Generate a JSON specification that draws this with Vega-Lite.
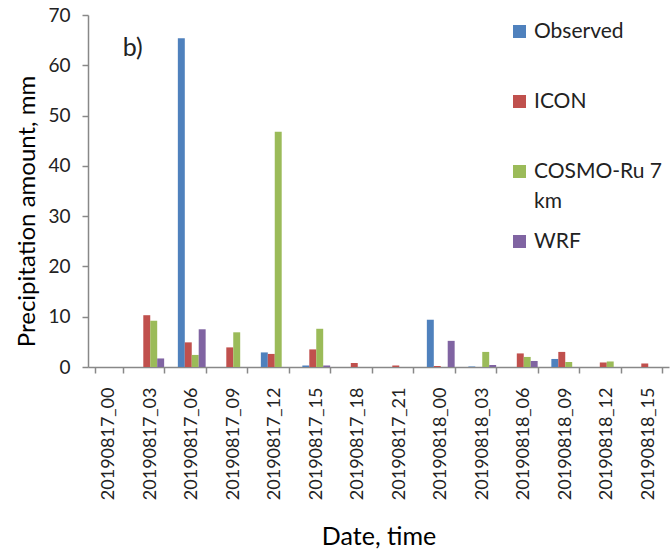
{
  "$schema": "https://vega.github.io/schema/vega-lite/v6.json",
  "width": 581,
  "height": 352,
  "autosize": "none",
  "padding": {"left": 88, "top": 15, "right": 2, "bottom": 190},
  "background": "white",
  "config": {"view": {"stroke": null}, "font": "Lato"},
  "datasets": {
    "rain": [
      {"t": "20190817_00", "model": "Observed", "v": 0},
      {"t": "20190817_00", "model": "ICON", "v": 0},
      {"t": "20190817_00", "model": "COSMO-Ru 7 km", "v": 0},
      {"t": "20190817_00", "model": "WRF", "v": 0},
      {"t": "20190817_03", "model": "Observed", "v": 0},
      {"t": "20190817_03", "model": "ICON", "v": 10.3},
      {"t": "20190817_03", "model": "COSMO-Ru 7 km", "v": 9.2},
      {"t": "20190817_03", "model": "WRF", "v": 1.7},
      {"t": "20190817_06", "model": "Observed", "v": 65.4},
      {"t": "20190817_06", "model": "ICON", "v": 4.9},
      {"t": "20190817_06", "model": "COSMO-Ru 7 km", "v": 2.4},
      {"t": "20190817_06", "model": "WRF", "v": 7.5},
      {"t": "20190817_09", "model": "Observed", "v": 0},
      {"t": "20190817_09", "model": "ICON", "v": 3.9},
      {"t": "20190817_09", "model": "COSMO-Ru 7 km", "v": 6.9},
      {"t": "20190817_09", "model": "WRF", "v": 0},
      {"t": "20190817_12", "model": "Observed", "v": 2.9},
      {"t": "20190817_12", "model": "ICON", "v": 2.6},
      {"t": "20190817_12", "model": "COSMO-Ru 7 km", "v": 46.8},
      {"t": "20190817_12", "model": "WRF", "v": 0},
      {"t": "20190817_15", "model": "Observed", "v": 0.3},
      {"t": "20190817_15", "model": "ICON", "v": 3.5},
      {"t": "20190817_15", "model": "COSMO-Ru 7 km", "v": 7.6},
      {"t": "20190817_15", "model": "WRF", "v": 0.3},
      {"t": "20190817_18", "model": "Observed", "v": 0},
      {"t": "20190817_18", "model": "ICON", "v": 0.8},
      {"t": "20190817_18", "model": "COSMO-Ru 7 km", "v": 0},
      {"t": "20190817_18", "model": "WRF", "v": 0},
      {"t": "20190817_21", "model": "Observed", "v": 0},
      {"t": "20190817_21", "model": "ICON", "v": 0.3},
      {"t": "20190817_21", "model": "COSMO-Ru 7 km", "v": 0},
      {"t": "20190817_21", "model": "WRF", "v": 0},
      {"t": "20190818_00", "model": "Observed", "v": 9.4},
      {"t": "20190818_00", "model": "ICON", "v": 0.2},
      {"t": "20190818_00", "model": "COSMO-Ru 7 km", "v": 0},
      {"t": "20190818_00", "model": "WRF", "v": 5.2},
      {"t": "20190818_03", "model": "Observed", "v": 0.1},
      {"t": "20190818_03", "model": "ICON", "v": 0},
      {"t": "20190818_03", "model": "COSMO-Ru 7 km", "v": 3.0},
      {"t": "20190818_03", "model": "WRF", "v": 0.4},
      {"t": "20190818_06", "model": "Observed", "v": 0},
      {"t": "20190818_06", "model": "ICON", "v": 2.7},
      {"t": "20190818_06", "model": "COSMO-Ru 7 km", "v": 2.0},
      {"t": "20190818_06", "model": "WRF", "v": 1.2},
      {"t": "20190818_09", "model": "Observed", "v": 1.6},
      {"t": "20190818_09", "model": "ICON", "v": 3.0},
      {"t": "20190818_09", "model": "COSMO-Ru 7 km", "v": 1.0},
      {"t": "20190818_09", "model": "WRF", "v": 0},
      {"t": "20190818_12", "model": "Observed", "v": 0},
      {"t": "20190818_12", "model": "ICON", "v": 0.9},
      {"t": "20190818_12", "model": "COSMO-Ru 7 km", "v": 1.1},
      {"t": "20190818_12", "model": "WRF", "v": 0},
      {"t": "20190818_15", "model": "Observed", "v": 0},
      {"t": "20190818_15", "model": "ICON", "v": 0.7},
      {"t": "20190818_15", "model": "COSMO-Ru 7 km", "v": 0},
      {"t": "20190818_15", "model": "WRF", "v": 0}
    ],
    "note": [{"t": "20190817_00", "y": 63.5, "txt": "b)"}]
  },
  "layer": [
    {
      "data": {"name": "rain"},
      "mark": {"type": "bar"},
      "encoding": {
        "x": {
          "field": "t", "type": "nominal", "sort": null,
          "scale": {"paddingInner": 0.33, "paddingOuter": 0.165},
          "axis": {
            "title": "Date, time", "titleFont": "Lato", "titleFontSize": 25, "titleFontWeight": "normal", "titleColor": "#000000",
            "titlePadding": 25,
            "labelAngle": -90, "labelFontSize": 18, "labelColor": "#222222", "labelPadding": 14,
            "tickBand": "extent", "tickSize": 6, "tickColor": "#888888", "domainColor": "#888888", "domainWidth": 1.5, "tickWidth": 1.5,
            "grid": false
          }
        },
        "xOffset": {"field": "model", "type": "nominal", "sort": ["Observed", "ICON", "COSMO-Ru 7 km", "WRF"], "scale": {"paddingInner": 0, "paddingOuter": 0}},
        "y": {
          "field": "v", "type": "quantitative",
          "scale": {"domain": [0, 70], "nice": false},
          "axis": {
            "title": "Precipitation amount, mm", "titleFont": "Lato", "titleFontSize": 24, "titleFontWeight": "normal", "titleColor": "#000000",
            "titlePadding": 8, "titleY": 196,
            "values": [0, 10, 20, 30, 40, 50, 60, 70],
            "labelFontSize": 19, "labelColor": "#222222", "labelPadding": 12,
            "tickSize": 6, "tickColor": "#888888", "domainColor": "#888888", "domainWidth": 1.5, "tickWidth": 1.5,
            "grid": false
          }
        },
        "color": {
          "field": "model", "type": "nominal",
          "sort": ["Observed", "ICON", "COSMO-Ru 7 km", "WRF"],
          "scale": {"domain": ["Observed", "ICON", "COSMO-Ru 7 km", "WRF"], "range": ["#4F81BD", "#C0504D", "#9BBB59", "#8064A2"]},
          "legend": {
            "title": null, "orient": "none", "legendX": 421, "legendY": 6,
            "symbolType": "square", "symbolSize": 170, "symbolStrokeWidth": 0, "symbolOpacity": 1,
            "labelFontSize": 21, "labelColor": "#222222", "labelOffset": 4, "labelLimit": 200,
            "rowPadding": 18,
            "labelExpr": "datum.label == 'COSMO-Ru 7 km' ? ['COSMO-Ru 7', 'km'] : [datum.label, '']",
            "encode": {"labels": {"update": {"lineHeight": {"value": 30}}}}
          }
        }
      }
    },
    {
      "data": {"name": "note"},
      "mark": {"type": "text", "fontSize": 25, "align": "left", "baseline": "middle", "font": "Lato", "color": "#222222", "dx": 14},
      "encoding": {
        "x": {"field": "t", "type": "nominal"},
        "y": {"field": "y", "type": "quantitative"},
        "text": {"field": "txt"}
      }
    }
  ]
}
